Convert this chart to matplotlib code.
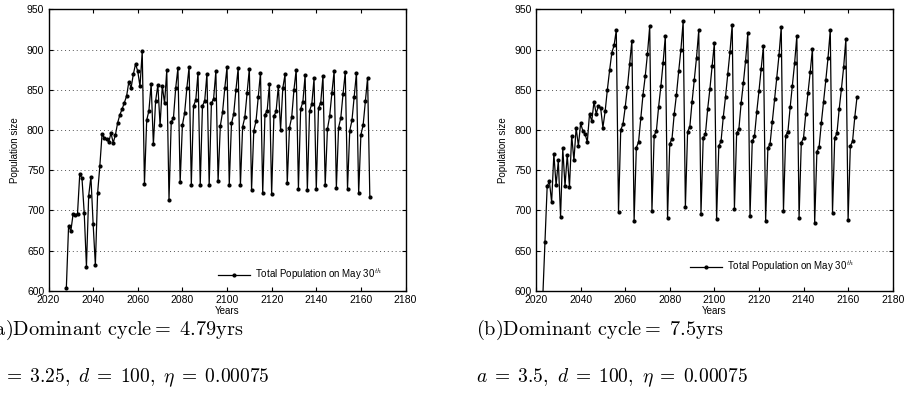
import matplotlib
matplotlib.use("Agg")
import matplotlib.pyplot as plt
import numpy as np

plt.rcParams['font.family'] = ['Liberation Sans', 'DejaVu Sans']
plt.rcParams['mathtext.fontset'] = 'cm'

# (a) a = 3.25
years_a = np.arange(2028, 2165)
pop_a = [604, 681, 674, 695, 694, 696, 745, 740, 697, 630,
         718, 742, 683, 632, 721, 755, 795, 790, 789, 785,
         796, 784, 794, 809, 819, 826, 834, 842, 860, 852,
         869, 882, 873, 854, 898, 733, 812, 824, 857, 782,
         836, 856, 806, 855, 833, 874, 713, 810, 815, 852,
         877, 735, 806, 821, 852, 878, 732, 830, 837, 871,
         732, 830, 836, 870, 731, 833, 839, 873, 736, 805,
         822, 852, 878, 732, 808, 820, 850, 877, 731, 804,
         816, 846, 876, 725, 799, 811, 841, 871, 721, 819,
         824, 857, 720, 817, 823, 855, 800, 852, 869, 734,
         803, 816, 850, 875, 727, 826, 835, 868, 725, 824,
         832, 864, 726, 827, 834, 867, 731, 801, 817, 846,
         873, 728, 803, 815, 845, 872, 727, 799, 812, 841,
         871, 721, 794, 806, 836, 865, 717]

# (b) a = 3.5
years_b = np.arange(2023, 2165)
pop_b = [590, 660, 730, 736, 710, 770, 731, 762, 692, 777,
         730, 769, 729, 793, 762, 803, 780, 808, 799, 795,
         785, 820, 811, 835, 820, 830, 827, 803, 823, 850,
         874, 896, 905, 924, 698, 800, 807, 828, 853, 882,
         911, 687, 778, 785, 815, 844, 867, 895, 929, 699,
         793, 799, 829, 854, 883, 917, 691, 783, 789, 820,
         844, 873, 900, 935, 704, 798, 804, 835, 862, 890,
         924, 696, 790, 795, 826, 851, 879, 908, 689, 780,
         786, 816, 841, 869, 897, 931, 702, 796, 801, 833,
         858, 886, 920, 693, 786, 792, 822, 848, 876, 904,
         687, 777, 783, 810, 838, 865, 893, 928, 699, 793,
         798, 828, 855, 883, 917, 691, 784, 790, 820, 846,
         872, 901, 684, 773, 779, 809, 835, 862, 890, 924,
         697, 790, 796, 826, 851, 878, 913, 688, 780, 786,
         816, 841]

captions = [r"$\mathrm{(a)Dominant\ cycle{=}\ 4.79yrs}$",
            r"$\mathrm{(b)Dominant\ cycle{=}\ 7.5yrs}$"]
params = [r"$a\;=\;3.25,\ d\;=\;100,\ \eta\;=\;0.00075$",
          r"$a\;=\;3.5,\ d\;=\;100,\ \eta\;=\;0.00075$"]
leg_pos = [(0.475, 0.056), (0.432, 0.084)]

fig = plt.figure(figsize=(9.05, 4.01), dpi=100)
ax_a = fig.add_axes([0.0536, 0.275, 0.3945, 0.7018])
ax_b = fig.add_axes([0.5923, 0.275, 0.3941, 0.7018])

for i, (ax, xs, ys) in enumerate([(ax_a, years_a, pop_a), (ax_b, years_b, pop_b)]):
    ax.plot(xs, ys, color="black", linewidth=0.9, marker=".", markersize=4,
            label="Total Population on May 30$^{th}$")
    ax.set_xlim(2020, 2180)
    ax.set_ylim(600, 950)
    ax.set_xticks(np.arange(2020, 2181, 20))
    ax.set_yticks(np.arange(600, 951, 50))
    ax.yaxis.grid(True, linestyle=(0, (1, 3)), color="#555555", linewidth=0.7)
    ax.tick_params(direction="in", top=True, right=True, labelsize=7.5, length=3, width=0.8, pad=3)
    for s in ax.spines.values():
        s.set_linewidth(1.0)
    ax.set_xlabel("Years", fontsize=7, labelpad=1)
    ax.set_ylabel("Population size", fontsize=7, labelpad=5)
    ax.legend(loc="center left", bbox_to_anchor=leg_pos[i], frameon=False, fontsize=7,
              handlelength=3.3, handletextpad=0.5, borderpad=0, borderaxespad=0, numpoints=1)

fig.text(-0.014, 0.165, captions[0], fontsize=14.6, ha="left", va="baseline")
fig.text(0.526, 0.165, captions[1], fontsize=14.6, ha="left", va="baseline")
fig.text(-0.013, 0.047, params[0], fontsize=14, ha="left", va="baseline")
fig.text(0.526, 0.047, params[1], fontsize=14, ha="left", va="baseline")

fig.savefig("out.png", dpi=100)
